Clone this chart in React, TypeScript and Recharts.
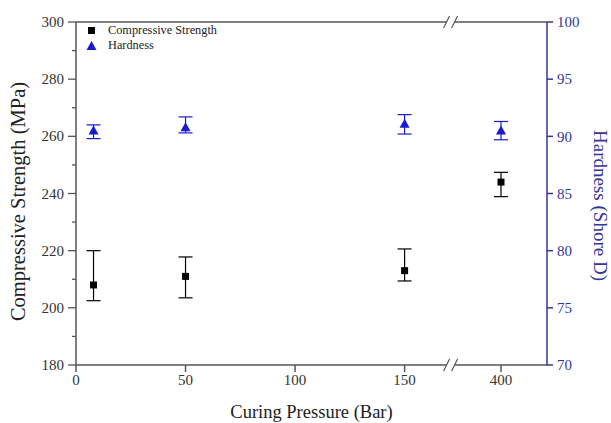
import { ScatterChart, Scatter, XAxis, YAxis, ErrorBar, ReferenceLine, ReferenceDot, Label } from 'recharts';

// curing pressure (bar) and the two measured properties
const pressures = [8, 50, 150, 400];
const strength = [208, 211, 213, 244];
const strengthLow = [202.5, 203.5, 209.4, 238.9];
const strengthHigh = [220, 217.8, 220.6, 247.4];
const hardness = [90.5, 90.8, 91.1, 90.5];
const hardnessLow = [89.8, 90.3, 90.2, 89.7];
const hardnessHigh = [91.0, 91.7, 91.9, 91.3];

const xTickPressures = [0, 50, 100, 150, 400];
const strengthTicks = [180, 190, 200, 210, 220, 230, 240, 250, 260, 270, 280, 290, 300];
const hardnessTicks = [70, 75, 80, 85, 90, 95, 100];

// broken x axis: everything after the break is shifted left
const BREAK_AT = 171;
const SHIFT = 206;
const toAxis = (p: number) => (p > 150 ? p - SHIFT : p);

const FONT = '"Liberation Serif", "DejaVu Serif", serif';
const GRAY = '#555';
const NAVY = '#35359a';
const BLUE = '#1a1ad0';

const strengthData = pressures.map((p, i) => ({
  x: toAxis(p),
  y: strength[i],
  err: [strength[i] - strengthLow[i], strengthHigh[i] - strength[i]],
}));
const hardnessData = pressures.map((p, i) => ({
  x: toAxis(p),
  y: hardness[i],
  err: [hardness[i] - hardnessLow[i], hardnessHigh[i] - hardness[i]],
}));

const Square = (props: any) => {
  const { cx, cy } = props;
  return <rect x={cx - 3.5} y={cy - 3.5} width={7} height={7} fill="#000" />;
};

const Triangle = (props: any) => {
  const { cx, cy } = props;
  return <path d={`M${cx},${cy - 5} L${cx + 5},${cy + 4} L${cx - 5},${cy + 4} Z`} fill={BLUE} />;
};

const LeftTick = (props: any) => {
  const { x, y, payload } = props;
  const major = payload.value % 20 === 0;
  return (
    <g>
      <line x1={x + 8 - (major ? 8 : 4)} x2={x + 8} y1={y} y2={y} stroke={GRAY} strokeWidth={1.3} />
      {major && (
        <text x={x - 4} y={y} dy={5} textAnchor="end" fontSize={15} fill="#333" fontFamily={FONT}>
          {payload.value}
        </text>
      )}
    </g>
  );
};

const BreakMark = (props: any) => {
  const { cx, cy } = props;
  return (
    <g>
      <rect x={cx - 4} y={cy - 3} width={8} height={6} fill="#fff" />
      <line x1={cx - 7} y1={cy + 6} x2={cx - 1} y2={cy - 6} stroke={GRAY} strokeWidth={1.2} />
      <line x1={cx + 1} y1={cy + 6} x2={cx + 7} y2={cy - 6} stroke={GRAY} strokeWidth={1.2} />
    </g>
  );
};

const LeftTitle = (props: any) => {
  const { viewBox } = props;
  const x = viewBox.x + 4;
  const y = viewBox.y + viewBox.height / 2 + 8;
  return (
    <text x={x} y={y} transform={`rotate(-90, ${x}, ${y})`} textAnchor="middle" dominantBaseline="central"
      fontSize={20.5} fill="#222" fontFamily={FONT}>
      Compressive Strength (MPa)
    </text>
  );
};

const RightTitle = (props: any) => {
  const { viewBox } = props;
  const x = viewBox.x + viewBox.width + 9;
  const y = viewBox.y + viewBox.height / 2 + 12;
  return (
    <text x={x} y={y} transform={`rotate(90, ${x}, ${y})`} textAnchor="middle" dominantBaseline="central"
      fontSize={19} fill={NAVY} fontFamily={FONT}>
      Hardness (Shore D)
    </text>
  );
};

const LegendBox = () => (
  <div style={{ position: 'absolute', left: 84, top: 23, fontFamily: FONT, fontSize: 12.3, color: '#222', lineHeight: '15px' }}>
    <div style={{ display: 'flex', alignItems: 'center' }}>
      <svg width={24} height={15}>
        <rect x={4} y={4} width={7} height={7} fill="#000" />
      </svg>
      <span>Compressive Strength</span>
    </div>
    <div style={{ display: 'flex', alignItems: 'center' }}>
      <svg width={24} height={15}>
        <path d="M7.5,3 L12.5,12 L2.5,12 Z" fill={BLUE} />
      </svg>
      <span>Hardness</span>
    </div>
  </div>
);

export default function App() {
  return (
    <div style={{ position: 'absolute', left: 0, top: 0, width: 611, height: 423, background: '#fff' }}>
      <ScatterChart width={611} height={423} margin={{ top: 22, right: 20, bottom: 28, left: 14 }}>
        <XAxis
          type="number"
          dataKey="x"
          domain={[0, 215]}
          ticks={xTickPressures.map(toAxis)}
          tickFormatter={(v: number) => String(xTickPressures[xTickPressures.map(toAxis).indexOf(v)])}
          allowDataOverflow
          height={30}
          stroke={GRAY}
          strokeWidth={1.5}
          tickSize={7}
          tick={{ fill: '#333', fontSize: 15, fontFamily: FONT }}
        >
          <Label value="Curing Pressure (Bar)" position="insideBottom" offset={-23} fill="#222" fontSize={18.5} fontFamily={FONT} />
        </XAxis>
        <YAxis
          yAxisId="left"
          dataKey="y"
          type="number"
          domain={[180, 300]}
          ticks={strengthTicks}
          interval={0}
          width={62}
          stroke={GRAY}
          strokeWidth={1.5}
          tickSize={6}
          tickMargin={2}
          tickLine={false}
          tick={<LeftTick />}
        >
          <Label content={<LeftTitle />} />
        </YAxis>
        <YAxis
          yAxisId="right"
          dataKey="y"
          orientation="right"
          type="number"
          domain={[70, 100]}
          ticks={hardnessTicks}
          interval={0}
          width={44}
          stroke={NAVY}
          strokeWidth={1.5}
          tickSize={6}
          tickMargin={4}
          tick={{ fill: NAVY, fontSize: 15, fontFamily: FONT }}
        >
          <Label content={<RightTitle />} />
        </YAxis>
        <ReferenceLine yAxisId="left" y={300} stroke={GRAY} strokeWidth={1.5} />
        <ReferenceDot yAxisId="left" x={BREAK_AT} y={300} r={0} shape={<BreakMark />} ifOverflow="visible" />
        <ReferenceDot yAxisId="left" x={BREAK_AT} y={180} r={0} shape={<BreakMark />} ifOverflow="visible" />
        <Scatter yAxisId="left" data={strengthData} shape={<Square />} isAnimationActive={false}>
          <ErrorBar dataKey="err" direction="y" width={7} stroke="#000" strokeWidth={1.2} />
        </Scatter>
        <Scatter yAxisId="right" data={hardnessData} shape={<Triangle />} isAnimationActive={false}>
          <ErrorBar dataKey="err" direction="y" width={7} stroke={BLUE} strokeWidth={1.2} />
        </Scatter>
      </ScatterChart>
      <LegendBox />
    </div>
  );
}
